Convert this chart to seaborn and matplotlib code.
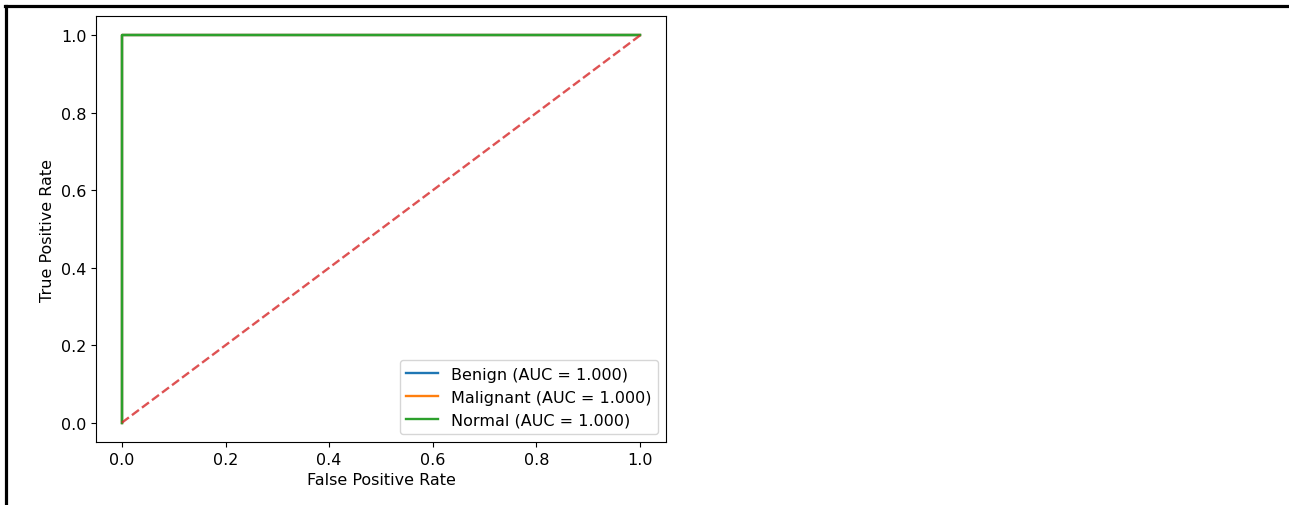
import numpy as np
import pandas as pd
import matplotlib
matplotlib.use('Agg')
import matplotlib.pyplot as plt
from matplotlib.lines import Line2D
import seaborn as sns

# ROC data (all three classes are perfect)
classes = ['Benign', 'Malignant', 'Normal']
auc_values = [1.000, 1.000, 1.000]
fpr_values = [[0.0, 0.0, 1.0], [0.0, 0.0, 1.0], [0.0, 0.0, 1.0]]
tpr_values = [[0.0, 1.0, 1.0], [0.0, 1.0, 1.0], [0.0, 1.0, 1.0]]
chance_x = [0.0, 1.0]
chance_y = [0.0, 1.0]

rows = []
for name, auc, fpr, tpr in zip(classes, auc_values, fpr_values, tpr_values):
    label = f'{name} (AUC = {auc:.3f})'
    for i, (fx, ty) in enumerate(zip(fpr, tpr)):
        rows.append({'fpr': fx, 'tpr': ty, 'curve': label, 'order': i})
df = pd.DataFrame(rows)

plt.rcParams['font.size'] = 11.5

fig = plt.figure(figsize=(12.89, 5.06), dpi=100)
ax = fig.add_axes([96 / 1289, 63 / 506, 570 / 1289, 426 / 506])

sns.lineplot(data=df, x='fpr', y='tpr', hue='curve', sort=False, estimator=None,
             units='curve', palette=['#1f77b4', '#ff7f0e', '#2ca02c'],
             linewidth=1.7, ax=ax)
ax.plot(chance_x, chance_y, linestyle='--', color='#d62728', alpha=0.8, linewidth=1.7)

ax.set_xlim(-0.05, 1.05)
ax.set_ylim(-0.05, 1.05)
ax.set_xticks(np.arange(0, 1.01, 0.2))
ax.set_yticks(np.arange(0, 1.01, 0.2))
ax.set_xlabel('False Positive Rate')
ax.set_ylabel('True Positive Rate')
ax.legend(loc='lower right', title=None)

# frame lines of the screenshot crop (top and left)
fig.add_artist(Line2D([5 / 1289, 1], [1 - 6.5 / 506, 1 - 6.5 / 506], color='black', linewidth=2.3,
                      transform=fig.transFigure))
fig.add_artist(Line2D([6 / 1289, 6 / 1289], [0, 1 - 6.5 / 506], color='black', linewidth=2.3,
                      transform=fig.transFigure))

fig.savefig('out.png', dpi=100)
